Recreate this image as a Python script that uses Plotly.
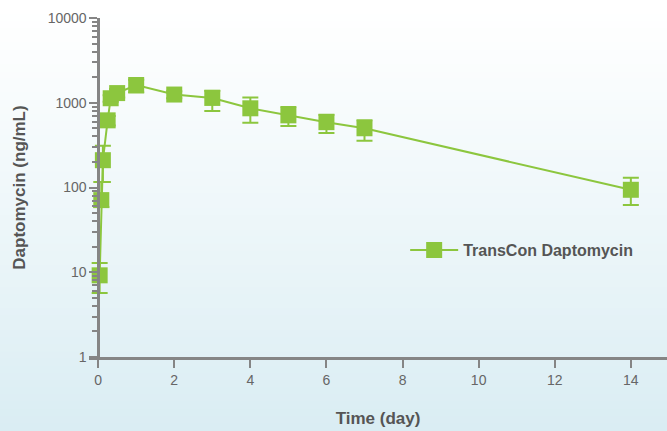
import plotly.graph_objects as go

times = [0.04, 0.083, 0.125, 0.25, 0.33, 0.5, 1, 2, 3, 4, 5, 6, 7, 14]
conc = [9.2, 71, 210, 620, 1130, 1300, 1620, 1250, 1140, 860, 710, 590, 500, 94]
err_plus = [3.7, 45, 100, 80, 100, 150, 250, 120, 250, 290, 180, 130, 120, 36]
err_minus = [3.5, 12, 94, 80, 100, 150, 300, 120, 340, 280, 180, 150, 145, 32]

y_tick_vals = [1, 10, 100, 1000, 10000]
y_tick_text = ["1", "10", "100", "1000", "10000"]
x_tick_vals = [0, 2, 4, 6, 8, 10, 12, 14]

GREEN = "#8cc63e"
AXIS = "#858585"
TXT = "#555555"

W, H = 667, 431
L, R, T, B = 89, 0, 18, 74
pw, ph = W - L - R, H - T - B

fig = go.Figure()
fig.add_trace(go.Scatter(
    x=times, y=conc, mode="lines+markers", name="TransCon Daptomycin",
    line=dict(color=GREEN, width=2),
    marker=dict(symbol="square", size=16, color=GREEN),
    error_y=dict(type="data", symmetric=False, array=err_plus, arrayminus=err_minus,
                 color=GREEN, thickness=2, width=8),
))

# background gradient (white at top to light blue at bottom)
shapes = []
n = 60
y_top = 1 + T / ph
y_bot = -B / ph
x_left = -L / pw
top_c = (255, 255, 255)
bot_c = (218, 237, 243)
for i in range(n):
    f = i / (n - 1)
    g = f ** 1.1
    c = tuple(int(round(top_c[k] + (bot_c[k] - top_c[k]) * g)) for k in range(3))
    y1 = y_top - (y_top - y_bot) * i / n
    y0 = y_top - (y_top - y_bot) * (i + 1) / n
    shapes.append(dict(type="rect", xref="paper", yref="paper", x0=x_left, x1=1.01,
                       y0=y0 - 0.002, y1=y1 + 0.002, fillcolor="rgb(%d,%d,%d)" % c,
                       line=dict(width=0), layer="below"))

xr = [-0.24, 14.95]
ypos = (0 - xr[0]) / (xr[1] - xr[0])

minor_vals = [m * 10 ** d for d in range(4) for m in range(2, 10)]

fig.update_layout(
    width=W, height=H, margin=dict(l=L, r=R, t=T, b=B),
    paper_bgcolor="white", plot_bgcolor="rgba(0,0,0,0)",
    shapes=shapes,
    font=dict(family="Liberation Sans, Arial, sans-serif", color=TXT),
    showlegend=True,
    legend=dict(x=0.547, y=0.315, xanchor="left", yanchor="middle",
                bgcolor="rgba(0,0,0,0)", itemwidth=48,
                font=dict(size=16, color=TXT, family="Liberation Sans, Arial, sans-serif", weight="bold")),
    xaxis=dict(range=xr, tickvals=x_tick_vals, ticks="outside", ticklen=8, tickwidth=2,
               tickcolor=AXIS, showline=True, linecolor=AXIS, linewidth=2.5,
               showgrid=False, zeroline=False,
               tickfont=dict(size=14, color="#666666"),
               title=dict(text="<b>Time (day)</b>", font=dict(size=17, color=TXT), standoff=26)),
    yaxis=dict(type="log", range=[0, 4], tickvals=y_tick_vals, ticktext=y_tick_text,
               anchor="free", position=ypos,
               ticks="outside", ticklen=8, tickwidth=2, tickcolor=AXIS,
               showline=True, linecolor=AXIS, linewidth=2.5, showgrid=False, zeroline=False,
               minor=dict(tickvals=minor_vals, ticks="outside", ticklen=5, tickwidth=1.5,
                          tickcolor=AXIS, showgrid=False),
               tickfont=dict(size=14, color="#666666"),
               title=dict(text="<b>Daptomycin (ng/mL)</b>", font=dict(size=17, color=TXT), standoff=16)),
)

fig.write_html("out.html")
